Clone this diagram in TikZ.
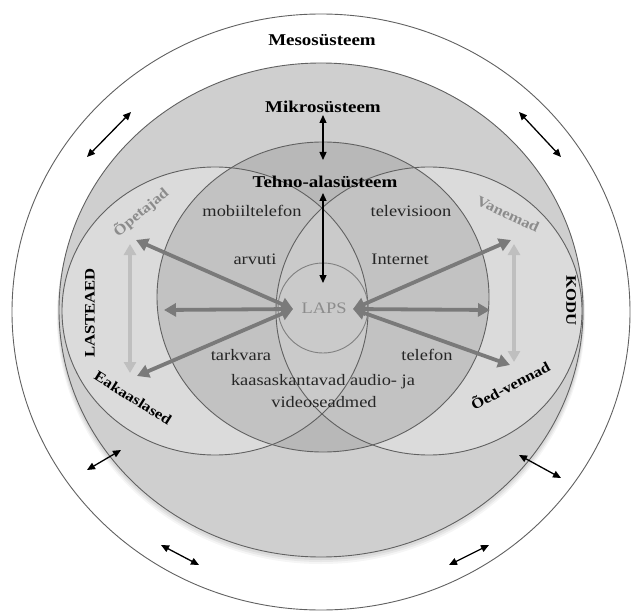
\documentclass[tikz,border=0pt]{standalone}
\usepackage{fontspec}
\setmainfont{Liberation Serif}[FakeStretch=1.15]
\usetikzlibrary{arrows.meta}
\begin{document}
\begin{tikzpicture}[x=1pt,y=-1pt,
  ring/.style={draw=black!62,line width=0.9pt},
  title/.style={font=\bfseries\fontsize{16.5}{18}\selectfont},
  lbl/.style={font=\fontsize{16}{18}\selectfont,text=black!85},
  sidelbl/.style={font=\bfseries\fontsize{14.5}{16}\selectfont},
  faded/.style={font=\bfseries\fontsize{14.5}{16}\selectfont,text=black!45},
  blk/.style={line width=1.3pt,{Triangle[length=8pt,width=7pt]}-{Triangle[length=8pt,width=7pt]}},
  gry/.style={draw=black!52,line width=3.8pt,{Triangle[length=12pt,width=13pt]}-{Triangle[length=12pt,width=13pt]}},
  lgry/.style={draw=black!25,line width=3.8pt,{Triangle[length=11pt,width=12pt]}-{Triangle[length=11pt,width=12pt]}}
]
\useasboundingbox (0,0) rectangle (631,612);
\fill[white] (0,0) rectangle (631,612);
% outer ring
\fill[white] (321,312) ellipse [x radius=309pt, y radius=298pt];
% soft shadow of mikro
\foreach \d/\o in {7/0.04,5/0.05,3/0.06}{
  \fill[black,opacity=\o] (321,310+\d) ellipse [x radius=262pt+0.3*\d pt, y radius=247pt];
}
\fill[black!19] (321,310) ellipse [x radius=262pt, y radius=247pt];
% side circles
\fill[white,opacity=0.25] (215,311) ellipse [x radius=153pt, y radius=144pt];
\fill[white,opacity=0.25] (429,311) ellipse [x radius=153pt, y radius=144pt];
% tehno
\fill[black,opacity=0.11] (323,297) ellipse [x radius=166pt, y radius=155pt];
% outlines
\draw[ring] (321,312) ellipse [x radius=309pt, y radius=298pt];
\draw[ring] (321,310) ellipse [x radius=262pt, y radius=247pt];
\draw[ring] (215,311) ellipse [x radius=153pt, y radius=144pt];
\draw[ring] (429,311) ellipse [x radius=153pt, y radius=144pt];
\draw[ring] (323,297) ellipse [x radius=166pt, y radius=155pt];
\draw[ring,draw=black!50] (323,308) ellipse [x radius=45pt, y radius=45pt];

% coordinates
\coordinate (mkA) at (323,115); \coordinate (mkB) at (323,160);
\coordinate (tlA) at (323,193); \coordinate (tlB) at (323,283);
\coordinate (o1a) at (87,157);  \coordinate (o1b) at (131,112);
\coordinate (o2a) at (519,112); \coordinate (o2b) at (561,157);
\coordinate (o3a) at (87,470);  \coordinate (o3b) at (121,450);
\coordinate (o4a) at (519,455); \coordinate (o4b) at (561,478);
\coordinate (o5a) at (161,545); \coordinate (o5b) at (199,565);
\coordinate (o6a) at (449,565); \coordinate (o6b) at (489,545);
\coordinate (lL) at (293,309); \coordinate (lU) at (136,240);
\coordinate (lH) at (164,310); \coordinate (lD) at (137,376);
\coordinate (rL) at (353,309); \coordinate (rU) at (511,240);
\coordinate (rH) at (490,310); \coordinate (rD) at (510,365);
\coordinate (vl1) at (130,244); \coordinate (vl2) at (130,373);
\coordinate (vr1) at (514,244); \coordinate (vr2) at (514,362);

% light vertical arrows
\draw[lgry] (vl1) -- (vl2);
\draw[lgry] (vr1) -- (vr2);
% gray arrows
\draw[gry] (lU) -- (lL);
\draw[gry] (lH) -- (lL);
\draw[gry] (lD) -- (lL);
\draw[gry] (rU) -- (rL);
\draw[gry] (rH) -- (rL);
\draw[gry] (rD) -- (rL);

% black arrows
\draw[blk] (mkA) -- (mkB);
\draw[blk] (tlA) -- (tlB);
\draw[blk] (o1a) -- (o1b);
\draw[blk] (o2a) -- (o2b);
\draw[blk] (o3a) -- (o3b);
\draw[blk] (o4a) -- (o4b);
\draw[blk] (o5a) -- (o5b);
\draw[blk] (o6a) -- (o6b);

% texts
\node[title] (meso) at (322,40) {Mesosüsteem};
\node[title] (mikro) at (323,107) {Mikrosüsteem};
\node[title] (tehno) at (325,182) {Tehno-alasüsteem};
\node[lbl] (mob) at (252,211) {mobiiltelefon};
\node[lbl] (tv) at (411,211) {televisioon};
\node[lbl] (arv) at (255,259) {arvuti};
\node[lbl] (inet) at (400,259) {Internet};
\node[lbl,text=black!45] (laps) at (324,308) {LAPS};
\node[lbl] (tark) at (241,355) {tarkvara};
\node[lbl] (tel) at (427,355) {telefon};
\node[lbl] (kaas) at (323,382) {kaasaskantavad audio- ja};
\node[lbl] (video) at (324,402) {videoseadmed};
\node[sidelbl,rotate=90] (last) at (90,313) {LASTEAED};
\node[sidelbl,rotate=-90] (kodu) at (571,301) {KODU};
\node[faded,rotate=40] (opet) at (141,212) {Õpetajad};
\node[faded,rotate=-25] (van) at (508,214) {Vanemad};
\node[sidelbl,rotate=-32] (eak) at (133,398) {Eakaaslased};
\node[sidelbl,rotate=28] (oed) at (510,385) {Õed-vennad};
\end{tikzpicture}
\end{document}
